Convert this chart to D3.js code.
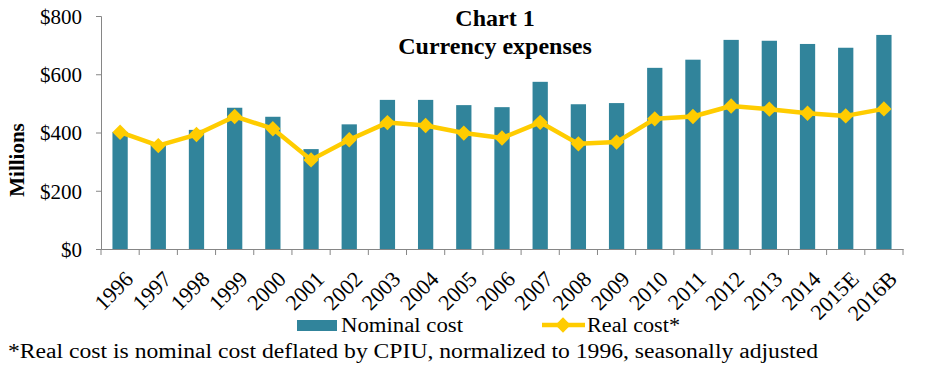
<!DOCTYPE html>
<meta charset="utf-8">
<head>
<style>
  body { margin: 0; background: #fff; }
  text { font-family: "Liberation Serif", "Times New Roman", serif; fill: #000; }
</style>
</head>
<body>
<script src="https://d3js.org/d3.v7.min.js"></script>
<div id="chart"></div>
<script>
// data
var years = ["1996","1997","1998","1999","2000","2001","2002","2003","2004","2005","2006",
             "2007","2008","2009","2010","2011","2012","2013","2014","2015E","2016B"];
var nominalCost = [402, 358, 409, 485, 454, 343, 428, 512, 512, 494, 487,
                   574, 497, 501, 622, 650, 718, 715, 704, 691, 735];
var realCost = [401, 355, 393, 455, 413, 306, 375, 434, 424, 398, 381,
                435, 361, 367, 447, 455, 491, 480, 466, 457, 481];
var yTicks = [0, 200, 400, 600, 800];

var W = 930, H = 369;
var plotLeft = 101, plotRight = 903, plotTop = 16, plotBottom = 249;

var svg = d3.select("#chart").append("svg")
    .attr("width", W)
    .attr("height", H);

var x = d3.scaleBand()
    .domain(years)
    .range([plotLeft, plotRight]);

var y = d3.scaleLinear()
    .domain([0, 800])
    .range([plotBottom, plotTop]);

var barW = x.bandwidth() * 0.4;

// bars
svg.append("g")
  .selectAll("rect")
  .data(years)
  .enter().append("rect")
    .attr("x", function(d) { return x(d) + (x.bandwidth() - barW) / 2; })
    .attr("y", function(d, i) { return y(nominalCost[i]); })
    .attr("width", barW)
    .attr("height", function(d, i) { return plotBottom - y(nominalCost[i]); })
    .attr("fill", "#31849b");

// y axis
var yAxis = svg.append("g")
    .attr("transform", "translate(" + plotLeft + ",0)")
    .call(d3.axisLeft(y).tickValues(yTicks).tickSize(5).tickPadding(14)
      .tickFormat(function(d) { return "$" + d; }));
yAxis.select(".domain").attr("stroke", "#868686");
yAxis.selectAll(".tick line").attr("stroke", "#868686");
yAxis.selectAll(".tick text")
    .attr("font-family", "Liberation Serif")
    .attr("font-size", "21px")
    .attr("fill", "#000")
    .attr("dy", "0.35em");

// x axis
var xAxis = svg.append("g")
    .attr("transform", "translate(0," + plotBottom + ")")
    .call(d3.axisBottom(x).tickSize(0).tickFormat(""));
xAxis.select(".domain").attr("stroke", "#868686");
xAxis.selectAll(".tick").remove();

// boundary ticks
svg.append("g")
  .selectAll("line")
  .data(years.concat(["end"]))
  .enter().append("line")
    .attr("x1", function(d, i) { return plotLeft + i * x.step(); })
    .attr("x2", function(d, i) { return plotLeft + i * x.step(); })
    .attr("y1", plotBottom)
    .attr("y2", plotBottom + 6)
    .attr("stroke", "#868686");

// rotated year labels
svg.append("g")
  .selectAll("text")
  .data(years)
  .enter().append("text")
    .attr("transform", function(d) {
      return "translate(" + (x(d) + x.bandwidth() / 2 + 9) + "," + (plotBottom + 26) + ") rotate(-45)";
    })
    .attr("text-anchor", "end")
    .attr("dy", "0.35em")
    .attr("font-size", "22px")
    .text(function(d) { return d; });

// real cost line
var line = d3.line()
    .x(function(d, i) { return x(years[i]) + x.bandwidth() / 2; })
    .y(function(d) { return y(d); });

svg.append("path")
    .datum(realCost)
    .attr("d", line)
    .attr("fill", "none")
    .attr("stroke", "#ffcc00")
    .attr("stroke-width", 4.5)
    .attr("stroke-linejoin", "round");

var diamond = d3.symbol().type(d3.symbolDiamond2).size(150);

svg.append("g")
  .selectAll("path")
  .data(realCost)
  .enter().append("path")
    .attr("d", diamond)
    .attr("transform", function(d, i) {
      return "translate(" + (x(years[i]) + x.bandwidth() / 2) + "," + y(d) + ")";
    })
    .attr("fill", "#ffcc00");

// y title
svg.append("text")
    .attr("transform", "translate(24,160) rotate(-90)")
    .attr("text-anchor", "middle")
    .attr("font-size", "21px")
    .attr("font-weight", "bold")
    .text("Millions");

// chart title
svg.append("text")
    .attr("x", 495).attr("y", 26)
    .attr("text-anchor", "middle")
    .attr("font-size", "24px")
    .attr("font-weight", "bold")
    .text("Chart 1");
svg.append("text")
    .attr("x", 495).attr("y", 54)
    .attr("text-anchor", "middle")
    .attr("font-size", "24px")
    .attr("font-weight", "bold")
    .text("Currency expenses");

// legend
var legend = svg.append("g");
legend.append("rect")
    .attr("x", 297).attr("y", 320)
    .attr("width", 40).attr("height", 11)
    .attr("fill", "#31849b");
legend.append("text")
    .attr("x", 341).attr("y", 332)
    .attr("font-size", "20px")
    .attr("textLength", 122)
    .attr("lengthAdjust", "spacingAndGlyphs")
    .text("Nominal cost");
legend.append("line")
    .attr("x1", 542).attr("x2", 585)
    .attr("y1", 325).attr("y2", 325)
    .attr("stroke", "#ffcc00")
    .attr("stroke-width", 4.5);
legend.append("path")
    .attr("d", diamond)
    .attr("transform", "translate(563,325)")
    .attr("fill", "#ffcc00");
legend.append("text")
    .attr("x", 587).attr("y", 332)
    .attr("font-size", "20px")
    .attr("textLength", 93)
    .attr("lengthAdjust", "spacingAndGlyphs")
    .text("Real cost*");

// footnote
svg.append("text")
    .attr("x", 8).attr("y", 358)
    .attr("font-size", "20px")
    .attr("textLength", 810)
    .attr("lengthAdjust", "spacingAndGlyphs")
    .text("*Real cost is nominal cost deflated by CPIU, normalized to 1996, seasonally adjusted");
</script>
</body>
